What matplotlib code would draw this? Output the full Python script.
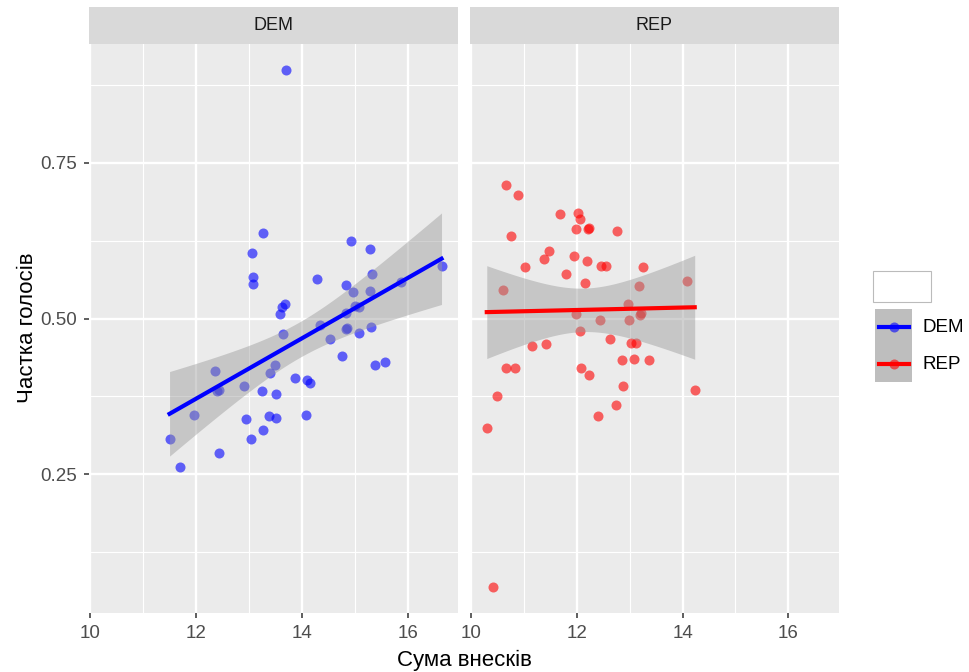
import numpy as np
import matplotlib.pyplot as plt
from matplotlib.patches import Rectangle

plt.rcParams['font.family'] = ['Liberation Sans', 'DejaVu Sans']

parties = ['DEM', 'REP']
party_colors = ['blue', 'red']

dem_x = [13.71, 13.26, 13.05, 13.07, 13.07, 14.92, 15.28, 15.33, 14.28, 14.83,
         14.96, 15.28, 16.64, 15.88, 13.69, 13.62, 13.58, 13.65, 15.00, 15.08,
         14.83, 14.35, 14.83, 14.86, 14.53, 15.08, 15.30, 14.76, 15.39, 15.57,
         13.50, 13.40, 12.35, 12.40, 12.44, 12.90, 13.24, 13.52, 13.88, 14.09,
         14.15, 11.96, 12.95, 13.37, 13.52, 14.08, 13.03, 13.27, 11.50, 12.44,
         11.69]
dem_y = [0.899, 0.637, 0.605, 0.567, 0.556, 0.625, 0.612, 0.572, 0.564, 0.553,
         0.542, 0.544, 0.584, 0.558, 0.524, 0.518, 0.508, 0.475, 0.520, 0.519,
         0.509, 0.489, 0.483, 0.485, 0.467, 0.477, 0.487, 0.440, 0.425, 0.431,
         0.426, 0.412, 0.416, 0.383, 0.386, 0.392, 0.383, 0.379, 0.405, 0.402,
         0.397, 0.345, 0.338, 0.343, 0.341, 0.346, 0.306, 0.321, 0.307, 0.284,
         0.261]

rep_x = [10.66, 10.89, 11.69, 12.03, 12.07, 11.98, 12.21, 12.24, 12.76, 10.76,
         11.48, 11.39, 11.95, 12.19, 12.46, 12.56, 13.26, 11.03, 11.79, 12.16,
         14.09, 10.61, 13.17, 12.97, 13.22, 13.20, 11.98, 12.44, 12.98, 12.07,
         12.63, 13.02, 13.12, 11.15, 11.42, 12.86, 13.08, 13.37, 10.67, 10.83,
         12.09, 12.23, 12.88, 14.23, 10.50, 12.74, 12.40, 10.30, 10.42]
rep_y = [0.715, 0.698, 0.668, 0.669, 0.660, 0.644, 0.643, 0.645, 0.641, 0.633,
         0.609, 0.596, 0.601, 0.593, 0.585, 0.585, 0.582, 0.583, 0.571, 0.557,
         0.561, 0.546, 0.552, 0.524, 0.509, 0.505, 0.507, 0.497, 0.497, 0.480,
         0.467, 0.461, 0.461, 0.456, 0.459, 0.433, 0.435, 0.434, 0.420, 0.420,
         0.420, 0.410, 0.391, 0.385, 0.376, 0.361, 0.343, 0.325, 0.069]

x_major = [10, 12, 14, 16]
x_minor = [11, 13, 15]
y_major = [0.25, 0.50, 0.75]
y_minor = [0.125, 0.375, 0.625, 0.875]

T975 = 2.01  # qt(0.975, ~48) for the lm confidence band

data = [(dem_x, dem_y), (rep_x, rep_y)]

# ggplot-style 5% expansion of the shared scales
all_x = np.array(dem_x + rep_x)
all_y = np.array(dem_y + rep_y)
xpad = 0.05 * (all_x.max() - all_x.min())
ypad = 0.05 * (all_y.max() - all_y.min())
xlim = (all_x.min() - xpad, all_x.max() + xpad)
ylim = (all_y.min() - ypad, all_y.max() + ypad)

W, H = 970, 672
fig = plt.figure(figsize=(W / 100, H / 100), dpi=100)

panel_left = [89.3, 470.0]
panel_w = 369.0
panel_top, panel_bot = 44.0, 613.0
strip_top = 7.0


def fx(px):
    return px / W


def fy(py):
    return 1 - py / H


for i, party in enumerate(parties):
    x = np.array(data[i][0])
    y = np.array(data[i][1])
    col = party_colors[i]

    ax = fig.add_axes([fx(panel_left[i]), fy(panel_bot), panel_w / W, (panel_bot - panel_top) / H])
    ax.set_facecolor('#EBEBEB')
    for s in ax.spines.values():
        s.set_visible(False)
    ax.set_xlim(xlim)
    ax.set_ylim(ylim)
    ax.set_xticks(x_major)
    ax.set_xticks(x_minor, minor=True)
    ax.set_yticks(y_major)
    ax.set_yticks(y_minor, minor=True)
    ax.grid(which='major', color='white', linewidth=1.7)
    ax.grid(which='minor', color='white', linewidth=0.8)
    ax.set_axisbelow(True)
    ax.tick_params(which='minor', length=0)
    ax.tick_params(which='major', length=3.5, width=1.1, color='#333333',
                   labelcolor='#4D4D4D', labelsize=13.5, pad=5)
    if i == 0:
        ax.set_yticklabels(['0.25', '0.50', '0.75'])
    else:
        ax.tick_params(axis='y', which='major', length=0, labelleft=False)

    # linear fit with confidence band
    n = len(x)
    b1, b0 = np.polyfit(x, y, 1)
    resid = y - (b0 + b1 * x)
    s = np.sqrt(np.sum(resid ** 2) / (n - 2))
    sxx = np.sum((x - x.mean()) ** 2)
    xs = np.linspace(x.min(), x.max(), 80)
    yhat = b0 + b1 * xs
    se = s * np.sqrt(1 / n + (xs - x.mean()) ** 2 / sxx)

    ax.scatter(x, y, s=52, color=col, alpha=0.6, linewidths=0, zorder=3)
    ax.fill_between(xs, yhat - T975 * se, yhat + T975 * se, color='#999999', alpha=0.45,
                    linewidth=0, zorder=4)
    ax.plot(xs, yhat, color=col, linewidth=3, zorder=5)

    sax = fig.add_axes([fx(panel_left[i]), fy(panel_top), panel_w / W, (panel_top - strip_top) / H])
    sax.set_facecolor('#D9D9D9')
    for s_ in sax.spines.values():
        s_.set_visible(False)
    sax.set_xticks([])
    sax.set_yticks([])
    sax.text(0.5, 0.5, party, ha='center', va='center', fontsize=13, color='#1A1A1A',
             transform=sax.transAxes)

fig.text(fx(464), fy(660), 'Сума внесків', ha='center', va='center', fontsize=16, color='black')
fig.text(fx(28), fy(328), 'Частка голосів', ha='center', va='center', rotation=90,
         fontsize=16, color='black')

# legend
fig.patches.append(Rectangle((fx(872.7), fy(302.3)), (931 - 872.7) / W, (302.3 - 271) / H,
                             transform=fig.transFigure, facecolor='white',
                             edgecolor='#BBBBBB', linewidth=0.8))
key_top = 309.0
key_h = 36.7
for i, party in enumerate(parties):
    kt = key_top + i * key_h
    kax = fig.add_axes([fx(875), fy(kt + key_h), 37.3 / W, key_h / H])
    kax.set_facecolor('#BEBEBE')
    for s_ in kax.spines.values():
        s_.set_visible(False)
    kax.set_xticks([])
    kax.set_yticks([])
    kax.set_xlim(0, 1)
    kax.set_ylim(0, 1)
    kax.plot([0.1, 0.9], [0.5, 0.5], color=party_colors[i], linewidth=3)
    kax.scatter([0.5], [0.5], s=52, color=party_colors[i], alpha=0.6, linewidths=0)
    fig.text(fx(923), fy(kt + key_h / 2), party, ha='left', va='center', fontsize=13.5,
             color='black')

fig.savefig('out.png', dpi=100)
